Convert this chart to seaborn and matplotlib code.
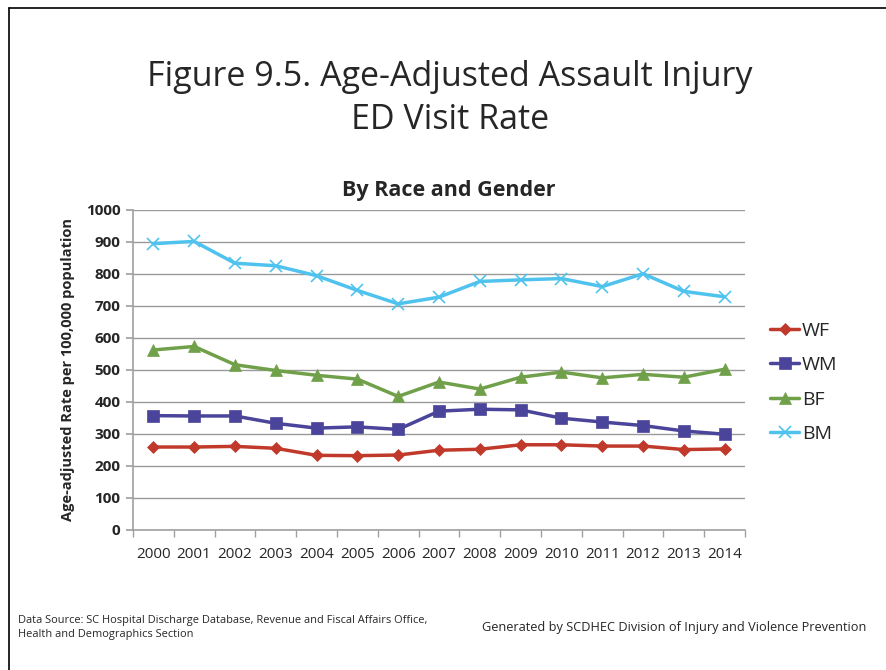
import numpy as np
import pandas as pd
import matplotlib
matplotlib.use("Agg")
import matplotlib.pyplot as plt
from matplotlib.lines import Line2D
import seaborn as sns

sns.set_theme(style="white")
plt.rcParams['font.family'] = ['Open Sans', 'DejaVu Sans']

years = list(range(2000, 2015))
wf = [259, 259, 261, 255, 233, 232, 234, 249, 252, 266, 266, 262, 262, 251, 253]
wm = [357, 356, 356, 333, 318, 322, 314, 371, 377, 375, 349, 337, 326, 309, 299]
bf = [562, 573, 516, 498, 483, 471, 417, 462, 440, 477, 493, 475, 486, 477, 502]
bm = [894, 901, 833, 825, 794, 748, 706, 727, 776, 781, 785, 760, 800, 745, 728]

series = ['WF', 'WM', 'BF', 'BM']
colors = {'WF': '#C0392B', 'WM': '#4A449A', 'BF': '#71A04A', 'BM': '#4FC3EE'}
markers = {'WF': 'D', 'WM': 's', 'BF': '^', 'BM': 'x'}
msizes = {'WF': 6, 'WM': 8, 'BF': 8, 'BM': 8}

df = pd.DataFrame({'Year': years, 'WF': wf, 'WM': wm, 'BF': bf, 'BM': bm})
long = df.melt(id_vars='Year', var_name='Group', value_name='Rate')
long['pos'] = long['Year'] - years[0]

fig = plt.figure(figsize=(8.86, 6.70), dpi=100)
ax = fig.add_axes([0.150, 0.209, 0.691, 0.478])

for g in series:
    sub = long[long['Group'] == g]
    sns.lineplot(data=sub, x='pos', y='Rate', ax=ax, color=colors[g],
                 marker=markers[g], markersize=msizes[g], linewidth=2.5,
                 markeredgecolor=colors[g], markeredgewidth=1.2 if g == 'BM' else 0.5,
                 label=g)

ax.set_xlim(-0.5, len(years) - 0.5)
ax.set_ylim(0, 1000)
ax.set_yticks(np.arange(0, 1001, 100))
ax.set_yticklabels([str(v) for v in range(0, 1001, 100)], fontsize=11, fontweight='bold')
ax.set_xticks(np.arange(len(years)))
ax.set_xticklabels([str(y) for y in years], fontsize=11)
ax.set_xticks(np.arange(-0.5, len(years)), minor=True)
ax.tick_params(axis='x', which='major', length=0, pad=12)
ax.tick_params(axis='x', which='minor', length=5, color='#A0A0A0', direction='out', bottom=True)
ax.tick_params(axis='y', length=5, color='#A0A0A0', direction='out', left=True, pad=4)
ax.grid(axis='y', color='#9A9A9A', linewidth=1)
ax.set_axisbelow(True)
for s in ['top', 'right']:
    ax.spines[s].set_visible(False)
for s in ['left', 'bottom']:
    ax.spines[s].set_color('#A0A0A0')
    ax.spines[s].set_linewidth(1.2)

ax.set_xlabel('')
ax.set_ylabel('Age-adjusted Rate per 100,000 population', fontsize=10.5, fontweight='bold', labelpad=8)
fig.text(0.506, 0.716, 'By Race and Gender', ha='center', va='center',
         fontsize=15.5, fontweight='bold')

leg = ax.legend(loc='center left', bbox_to_anchor=(1.012, 0.461), frameon=False,
                fontsize=14, handlelength=1.5, handletextpad=0.15, labelspacing=0.85)

fig.text(0.508, 0.853, 'Figure 9.5. Age-Adjusted Assault Injury\nED Visit Rate',
         ha='center', va='center', fontsize=24.5, linespacing=1.32)

fig.text(0.020, 0.064, 'Data Source: SC Hospital Discharge Database, Revenue and Fiscal Affairs Office,\nHealth and Demographics Section',
         ha='left', va='center', fontsize=7.9, linespacing=1.4)
fig.text(0.544, 0.064, 'Generated by SCDHEC Division of Injury and Violence Prevention',
         ha='left', va='center', fontsize=9.2)

fig.add_artist(Line2D([0.0105, 0.0105], [0.0, 0.988], transform=fig.transFigure, color='black', linewidth=1.2))
fig.add_artist(Line2D([0.0105, 1.0], [0.988, 0.988], transform=fig.transFigure, color='black', linewidth=1.2))

fig.savefig('out.png', dpi=100)
